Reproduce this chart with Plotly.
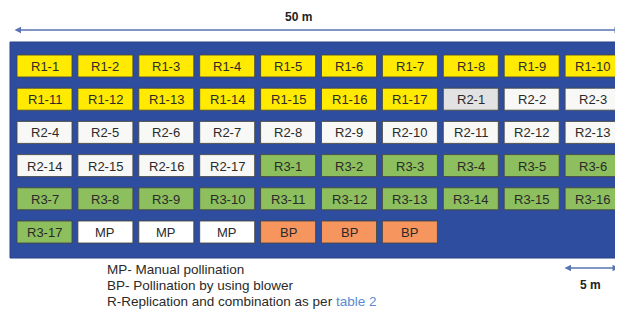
import plotly.graph_objects as go

# ---- data -------------------------------------------------------------
row_labels = [
    ["R1-1", "R1-2", "R1-3", "R1-4", "R1-5", "R1-6", "R1-7", "R1-8", "R1-9", "R1-10"],
    ["R1-11", "R1-12", "R1-13", "R1-14", "R1-15", "R1-16", "R1-17", "R2-1", "R2-2", "R2-3"],
    ["R2-4", "R2-5", "R2-6", "R2-7", "R2-8", "R2-9", "R2-10", "R2-11", "R2-12", "R2-13"],
    ["R2-14", "R2-15", "R2-16", "R2-17", "R3-1", "R3-2", "R3-3", "R3-4", "R3-5", "R3-6"],
    ["R3-7", "R3-8", "R3-9", "R3-10", "R3-11", "R3-12", "R3-13", "R3-14", "R3-15", "R3-16"],
    ["R3-17", "MP", "MP", "MP", "BP", "BP", "BP"],
]
group_colors = {
    "R1": "#FFEA00",
    "R2": "#F8F8F6",
    "R3": "#8DBF5E",
    "MP": "#FFFFFF",
    "BP": "#F7955E",
}
special_colors = {"R2-1": "#E2E2E2"}
legend_lines = [
    "MP- Manual pollination",
    "BP- Pollination by using blower",
    "R-Replication and combination as per <span style=\"color:#5B8BD0\">table 2</span>",
]
scale_top = "50 m"
scale_small = "5 m"

# ---- layout constants (page pixel space; page body has an 8px margin) ----
W, H = 623, 310
OFF = 8
panel = dict(x0=10, x1=630, y0=42, y1=258, color="#2E4D9E")
col_x0, col_pitch, cell_w = 17, 60.9, 55
row_y0, row_pitch, cell_h = 55, 33.2, 22

fig = go.Figure()
fig.add_trace(go.Scatter(x=[OFF, W], y=[OFF, H], mode="markers",
                         marker=dict(opacity=0), hoverinfo="skip", showlegend=False))

shapes = [dict(type="rect", xref="x", yref="y", x0=panel["x0"], x1=panel["x1"],
               y0=panel["y0"], y1=panel["y1"], fillcolor=panel["color"],
               line=dict(color="#27408A", width=1), layer="below")]
annotations = []
for r, labels in enumerate(row_labels):
    for c, lab in enumerate(labels):
        x0 = col_x0 + c * col_pitch
        y0 = row_y0 + r * row_pitch
        color = special_colors.get(lab, group_colors[lab[:2]])
        shapes.append(dict(type="rect", xref="x", yref="y", x0=x0, x1=x0 + cell_w,
                           y0=y0, y1=y0 + cell_h, fillcolor=color,
                           line=dict(color="rgba(70,70,60,0.85)", width=1)))
        annotations.append(dict(x=x0 + cell_w / 2, y=y0 + cell_h / 2 + 0.5, xref="x", yref="y",
                                text=lab, showarrow=False,
                                font=dict(family="Liberation Sans, Arial", size=13,
                                          color="#2a2a2a")))

# scale arrows
arrow_col = "#5A74B4"
annotations.append(dict(x=621, y=30, ax=13, ay=30, xref="x", yref="y", axref="x", ayref="y",
                        text="", showarrow=True, arrowhead=2, arrowside="end+start",
                        arrowsize=1, arrowwidth=1.3, arrowcolor=arrow_col))
annotations.append(dict(x=298, y=17, xref="x", yref="y", text="<b>" + scale_top + "</b>",
                        showarrow=False,
                        font=dict(family="Liberation Sans, Arial", size=12, color="#222")))
annotations.append(dict(x=619, y=268, ax=563, ay=268, xref="x", yref="y", axref="x", ayref="y",
                        text="", showarrow=True, arrowhead=2, arrowside="end+start",
                        arrowsize=1, arrowwidth=1.3, arrowcolor=arrow_col))
annotations.append(dict(x=590, y=285, xref="x", yref="y", text="<b>" + scale_small + "</b>",
                        showarrow=False,
                        font=dict(family="Liberation Sans, Arial", size=12, color="#222")))

# legend text
for i, line in enumerate(legend_lines):
    annotations.append(dict(x=105, y=269 + i * 16, xref="x", yref="y", text=line,
                            showarrow=False, xanchor="left",
                            font=dict(family="Liberation Sans, Arial", size=13.5,
                                      color="#2a2a2a")))

fig.update_layout(
    width=W - OFF, height=H - OFF, margin=dict(l=0, r=0, t=0, b=0),
    paper_bgcolor="white", plot_bgcolor="white",
    xaxis=dict(range=[OFF, W], visible=False, fixedrange=True),
    yaxis=dict(range=[H, OFF], visible=False, fixedrange=True),
    shapes=shapes, annotations=annotations, showlegend=False,
)
fig.write_html("out.html")
